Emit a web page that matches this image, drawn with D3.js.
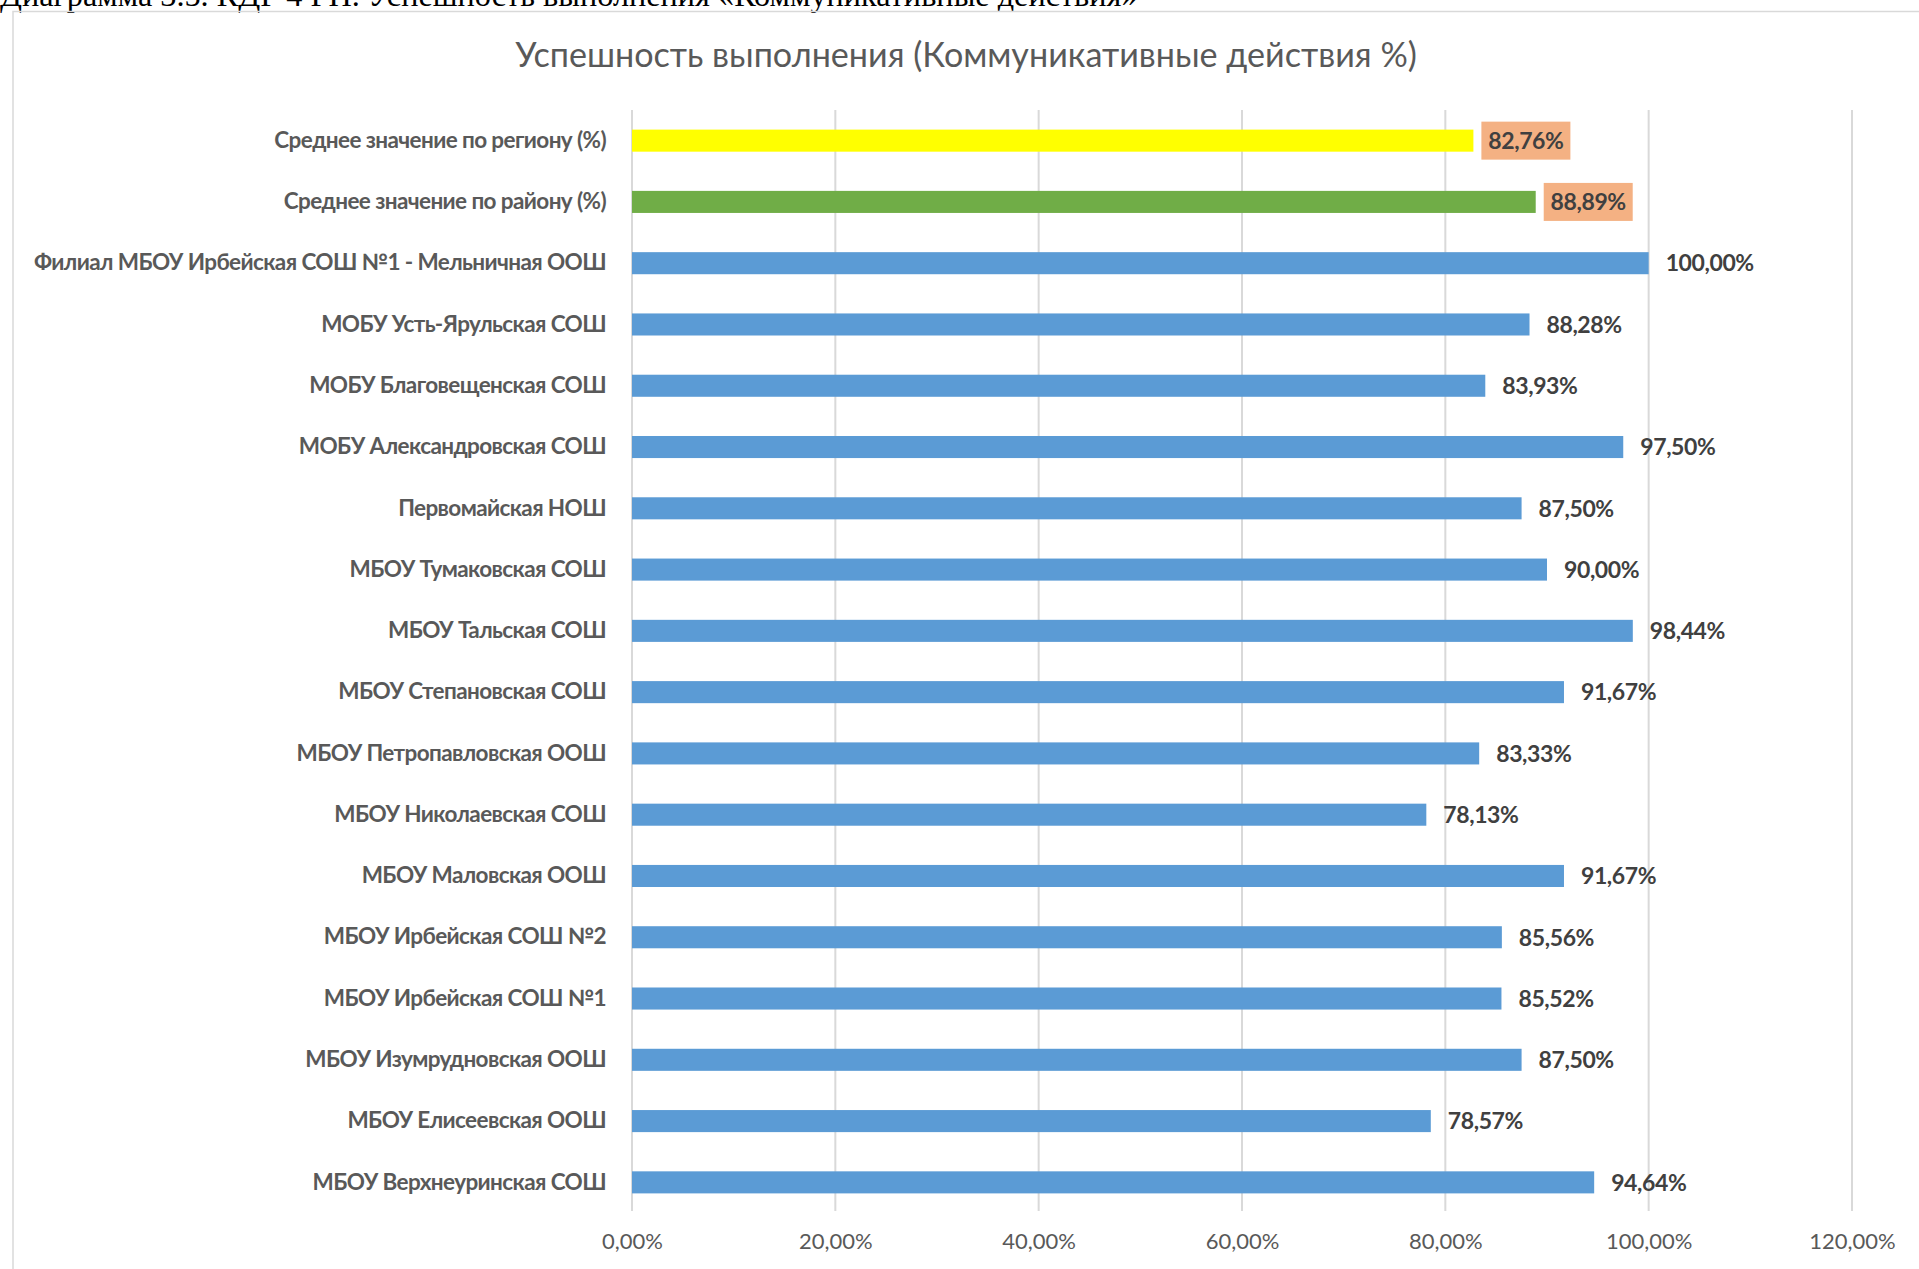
<!DOCTYPE html>
<html>
  <head>
    <meta charset="UTF-8"/>
    <script src="https://d3js.org/d3.v7.min.js"></script>
    <style>
      body{ margin:0; background:#fff; }
      svg{ display:block; }
      .lbl{ font-family: Lato, "Open Sans", sans-serif; }
    </style>
  </head>
  <body>
    <script>
      // data, top to bottom
      const categories = [
        'Среднее значение по региону (%)',
        'Среднее значение по району (%)',
        'Филиал МБОУ Ирбейская СОШ №1 - Мельничная ООШ',
        'МОБУ Усть-Ярульская СОШ',
        'МОБУ Благовещенская СОШ',
        'МОБУ Александровская СОШ',
        'Первомайская НОШ',
        'МБОУ Тумаковская СОШ',
        'МБОУ Тальская СОШ',
        'МБОУ Степановская СОШ',
        'МБОУ Петропавловская ООШ',
        'МБОУ Николаевская СОШ',
        'МБОУ Маловская ООШ',
        'МБОУ Ирбейская СОШ №2',
        'МБОУ Ирбейская СОШ №1',
        'МБОУ Изумрудновская ООШ',
        'МБОУ Елисеевская ООШ',
        'МБОУ Верхнеуринская СОШ'
      ];
      const values = [82.76, 88.89, 100.00, 88.28, 83.93, 97.50, 87.50, 90.00, 98.44,
                      91.67, 83.33, 78.13, 91.67, 85.56, 85.52, 87.50, 78.57, 94.64];
      const barColors = ['#FFFF00', '#70AD47'];   // the two averages, rest are blue
      const xTicks = [0, 20, 40, 60, 80, 100, 120];
      const title = 'Успешность выполнения (Коммуникативные действия %)';
      const caption = 'Диаграмма 3.5. КДР 4 РП. Успешность выполнения «Коммуникативные действия»';

      const width = 1919, height = 1269;
      const plotLeft = 632, plotRight = 1852, plotTop = 110, plotBottom = 1213;

      const fmt = v => v.toFixed(2).replace('.', ',') + '%';

      const svg = d3.select('body').append('svg')
        .attr('width', width)
        .attr('height', height);

      // fit a text element to a target width by changing its font size
      function fit(sel, w){
        const node = sel.node();
        const fs = parseFloat(sel.attr('font-size'));
        const len = node.getComputedTextLength();
        sel.attr('font-size', (fs * w / len).toFixed(2));
      }

      // cropped caption from the page above the chart (cut off in the source too)
      const cap = svg.append('text')
        .attr('x', 0).attr('y', 6)
        .attr('font-family', '"Liberation Serif", "Times New Roman", serif')
        .attr('font-size', 30)
        .attr('fill', '#000')
        .text(caption);
      fit(cap, 1138);

      // chart area border (top and left only visible)
      svg.append('path')
        .attr('d', 'M13,1269 V11.5 H1919')
        .attr('fill', 'none')
        .attr('stroke', '#D9D9D9')
        .attr('stroke-width', 1.5);

      const t = svg.append('text')
        .attr('class', 'lbl')
        .attr('x', 966).attr('y', 67)
        .attr('text-anchor', 'middle')
        .attr('font-size', 36)
        .attr('fill', '#595959')
        .text(title);
      fit(t, 902);

      const x = d3.scaleLinear().domain([0, 120]).range([plotLeft, plotRight]);
      const y = d3.scaleBand().domain(categories).range([plotTop, plotBottom])
        .paddingInner(0.64).paddingOuter(0.32);

      // gridlines
      svg.append('g').selectAll('line')
        .data(xTicks)
        .join('line')
        .attr('x1', d => x(d)).attr('x2', d => x(d))
        .attr('y1', plotTop).attr('y2', plotBottom - 2)
        .attr('stroke', '#D9D9D9')
        .attr('stroke-width', 2);

      // x axis labels
      const xAxis = d3.axisBottom(x).tickValues(xTicks)
        .tickFormat(d => fmt(d)).tickSize(0).tickPadding(0);
      const gx = svg.append('g')
        .attr('transform', 'translate(0,' + 1233 + ')')
        .call(xAxis);
      gx.select('.domain').remove();
      gx.selectAll('text')
        .attr('class', 'lbl')
        .attr('font-size', 22)
        .attr('fill', '#595959')
        .attr('dy', '0.71em');

      // category labels
      const yAxis = d3.axisLeft(y).tickSize(0).tickPadding(26);
      const gy = svg.append('g')
        .attr('transform', 'translate(' + plotLeft + ',0)')
        .call(yAxis);
      gy.select('.domain').remove();
      gy.selectAll('text')
        .attr('class', 'lbl')
        .attr('font-size', 25)
        .attr('font-weight', 'bold')
        .attr('letter-spacing', '-0.6px')
        .attr('fill', '#595959');
      // scale all category labels so the longest matches the picture
      let maxLen = 0;
      gy.selectAll('text').each(function(){ maxLen = Math.max(maxLen, this.getComputedTextLength()); });
      gy.selectAll('text').attr('font-size', (25 * 575 / maxLen).toFixed(2));

      // bars
      svg.append('g').selectAll('rect')
        .data(values)
        .join('rect')
        .attr('x', x(0))
        .attr('y', (d, i) => y(categories[i]))
        .attr('width', d => x(d) - x(0))
        .attr('height', y.bandwidth())
        .attr('fill', (d, i) => barColors[i] || '#5B9BD5');

      // data labels
      const lab = svg.append('g');
      values.forEach((v, i) => {
        const cy = y(categories[i]) + y.bandwidth() / 2;
        if (i < 2) {
          lab.append('rect')
            .attr('x', x(v) + 8)
            .attr('y', cy - 19)
            .attr('width', 89)
            .attr('height', 38)
            .attr('fill', '#F4B183');
          lab.append('text')
            .attr('class', 'lbl dl')
            .attr('x', x(v) + 8 + 44.5)
            .attr('y', cy)
            .attr('dy', '0.36em')
            .attr('text-anchor', 'middle')
            .attr('font-size', 23)
            .attr('font-weight', 'bold')
            .attr('letter-spacing', '-0.4px')
            .attr('fill', '#404040')
            .text(fmt(v));
        } else {
          lab.append('text')
            .attr('class', 'lbl dl')
            .attr('x', x(v) + 17)
            .attr('y', cy)
            .attr('dy', '0.36em')
            .attr('font-size', 23)
            .attr('font-weight', 'bold')
            .attr('letter-spacing', '-0.4px')
            .attr('fill', '#404040')
            .text(fmt(v));
        }
      });
    </script>
  </body>
</html>
